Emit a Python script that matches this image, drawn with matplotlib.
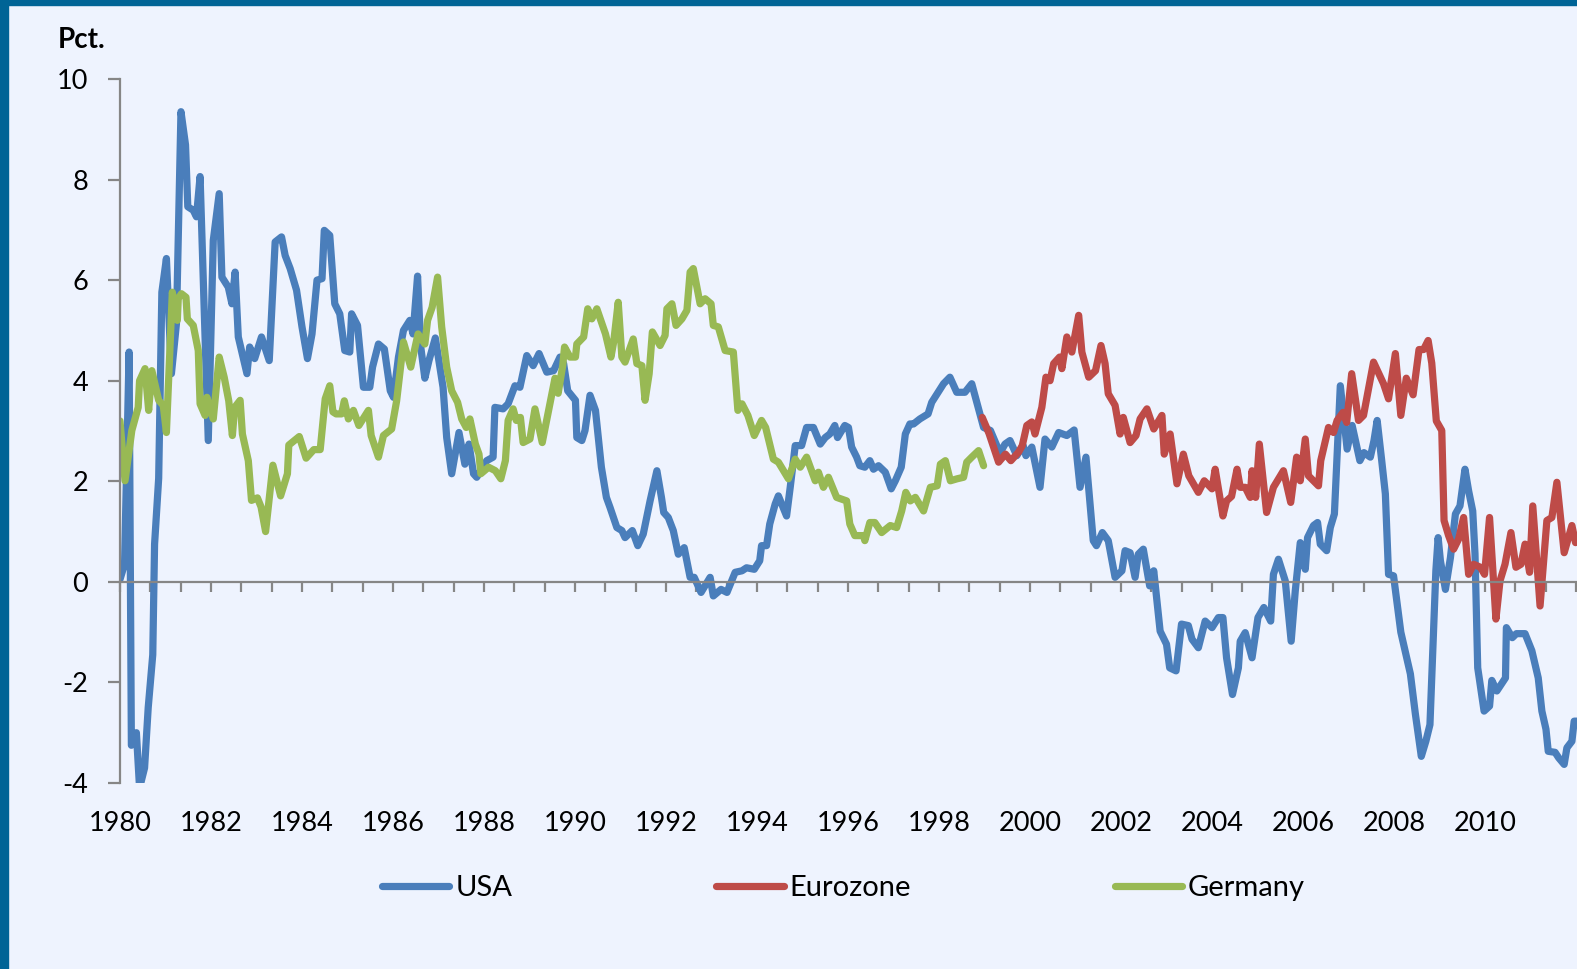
import matplotlib
matplotlib.use("Agg")
import matplotlib.pyplot as plt
from matplotlib.patches import Rectangle
from matplotlib.ticker import FixedLocator

usa_t = [1980.00, 1980.10, 1980.20, 1980.25, 1980.36, 1980.43, 1980.54, 1980.62, 1980.72, 1980.76,
         1980.85, 1980.92, 1981.02, 1981.13, 1981.24, 1981.34, 1981.44, 1981.49, 1981.61, 1981.68,
         1981.76, 1981.94, 1982.05, 1982.18, 1982.24, 1982.38, 1982.46, 1982.53, 1982.60, 1982.79,
         1982.85, 1982.96, 1983.11, 1983.28, 1983.41, 1983.55, 1983.63, 1983.74, 1983.88, 1984.00,
         1984.12, 1984.22, 1984.33, 1984.44, 1984.49, 1984.61, 1984.72, 1984.83, 1984.94, 1985.05,
         1985.09, 1985.22, 1985.35, 1985.49, 1985.55, 1985.68, 1985.81, 1985.94, 1986.01, 1986.12,
         1986.23, 1986.37, 1986.44, 1986.54, 1986.61, 1986.70, 1986.79, 1986.93, 1987.10, 1987.18,
         1987.29, 1987.45, 1987.58, 1987.67, 1987.77, 1987.84, 1988.06, 1988.20, 1988.24, 1988.42,
         1988.53, 1988.68, 1988.79, 1988.94, 1989.08, 1989.21, 1989.38, 1989.53, 1989.67, 1989.75,
         1989.84, 1990.01, 1990.04, 1990.15, 1990.22, 1990.33, 1990.45, 1990.58, 1990.69, 1990.77,
         1990.92, 1991.03, 1991.10, 1991.26, 1991.38, 1991.50, 1991.65, 1991.80, 1991.90, 1991.95,
         1992.05, 1992.16, 1992.27, 1992.40, 1992.53, 1992.62, 1992.77, 1992.97, 1993.04, 1993.21,
         1993.34, 1993.52, 1993.67, 1993.77, 1993.94, 1994.06, 1994.10, 1994.21, 1994.28, 1994.40,
         1994.47, 1994.65, 1994.73, 1994.84, 1994.98, 1995.09, 1995.24, 1995.39, 1995.50, 1995.60,
         1995.71, 1995.77, 1995.93, 1996.01, 1996.08, 1996.19, 1996.26, 1996.37, 1996.48, 1996.56,
         1996.67, 1996.82, 1996.95, 1997.04, 1997.17, 1997.26, 1997.36, 1997.44, 1997.58, 1997.76,
         1997.84, 1997.98, 1998.10, 1998.24, 1998.39, 1998.57, 1998.72, 1998.83, 1998.98, 1999.13,
         1999.34, 1999.45, 1999.56, 1999.71, 1999.85, 1999.91, 2000.04, 2000.22, 2000.33, 2000.48,
         2000.63, 2000.81, 2000.97, 2001.10, 2001.23, 2001.32, 2001.39, 2001.46, 2001.59, 2001.72,
         2001.87, 2002.02, 2002.09, 2002.20, 2002.31, 2002.38, 2002.49, 2002.63, 2002.72, 2002.86,
         2003.00, 2003.07, 2003.21, 2003.33, 2003.48, 2003.56, 2003.70, 2003.85, 2004.00, 2004.14,
         2004.24, 2004.32, 2004.45, 2004.58, 2004.62, 2004.73, 2004.88, 2005.01, 2005.14, 2005.29,
         2005.35, 2005.46, 2005.61, 2005.74, 2005.83, 2005.94, 2006.05, 2006.10, 2006.23, 2006.32,
         2006.38, 2006.52, 2006.60, 2006.69, 2006.82, 2006.97, 2007.08, 2007.25, 2007.34, 2007.48,
         2007.56, 2007.63, 2007.73, 2007.81, 2007.88, 2007.99, 2008.15, 2008.36, 2008.47, 2008.60,
         2008.70, 2008.79, 2008.85, 2008.92, 2008.97, 2009.02, 2009.13, 2009.24, 2009.35, 2009.45,
         2009.56, 2009.64, 2009.73, 2009.78, 2009.84, 2009.98, 2010.10, 2010.15, 2010.26, 2010.45,
         2010.47, 2010.60, 2010.69, 2010.88, 2011.03, 2011.17, 2011.25, 2011.34, 2011.39, 2011.54,
         2011.62, 2011.74, 2011.80, 2011.91, 2011.96, 2012.03]
usa_v = [0.05, 0.35, 4.57, -3.25, -3.0, -4.1, -3.7, -2.5, -1.45, 0.75,
         2.06, 5.76, 6.43, 4.14, 5.13, 9.35, 8.69, 7.46, 7.39, 7.26,
         8.06, 2.81, 6.79, 7.72, 6.06, 5.86, 5.53, 6.16, 4.87, 4.14,
         4.67, 4.44, 4.87, 4.4, 6.76, 6.86, 6.49, 6.23, 5.8, 5.07,
         4.44, 4.93, 6.0, 6.03, 6.99, 6.89, 5.53, 5.33, 4.6, 4.57,
         5.33, 5.1, 3.87, 3.87, 4.27, 4.73, 4.63, 3.8, 3.67, 4.47,
         5.0, 5.2, 4.93, 6.08, 4.67, 4.05, 4.4, 4.85, 3.87, 2.87,
         2.15, 2.97, 2.34, 2.74, 2.15, 2.08, 2.41, 2.48, 3.47, 3.44,
         3.54, 3.9, 3.87, 4.5, 4.3, 4.54, 4.17, 4.2, 4.47, 4.34,
         3.8, 3.61, 2.87, 2.81, 3.01, 3.71, 3.41, 2.28, 1.68, 1.48,
         1.08, 1.02, 0.88, 1.02, 0.72, 0.95, 1.61, 2.21, 1.68, 1.38,
         1.28, 1.02, 0.55, 0.68, 0.09, 0.09, -0.21, 0.09, -0.28, -0.15,
         -0.21, 0.19, 0.22, 0.28, 0.25, 0.42, 0.72, 0.72, 1.15, 1.55,
         1.71, 1.31, 1.88, 2.71, 2.71, 3.07, 3.07, 2.74, 2.87, 2.94,
         3.11, 2.87, 3.11, 3.07, 2.68, 2.48, 2.31, 2.28, 2.41, 2.24,
         2.31, 2.18, 1.85, 2.01, 2.28, 2.94, 3.14, 3.14, 3.24, 3.34,
         3.57, 3.77, 3.94, 4.07, 3.77, 3.77, 3.94, 3.57, 3.07, 3.01,
         2.56, 2.74, 2.81, 2.51, 2.71, 2.51, 2.68, 1.88, 2.84, 2.68,
         2.97, 2.91, 3.02, 1.88, 2.48, 1.55, 0.82, 0.72, 0.98, 0.82,
         0.09, 0.22, 0.62, 0.58, 0.09, 0.55, 0.65, -0.08, 0.22, -0.98,
         -1.24, -1.71, -1.77, -0.84, -0.87, -1.14, -1.31, -0.78, -0.91, -0.71,
         -0.71, -1.51, -2.24, -1.71, -1.18, -1.01, -1.51, -0.71, -0.51, -0.78,
         0.15, 0.45, 0.02, -1.18, -0.18, 0.78, 0.25, 0.88, 1.12, 1.18,
         0.75, 0.62, 1.08, 1.35, 3.9, 2.64, 3.11, 2.41, 2.57, 2.48,
         2.81, 3.21, 2.41, 1.75, 0.15, 0.12, -1.0, -1.83, -2.63, -3.47,
         -3.17, -2.84, -1.43, 0.22, 0.88, 0.42, -0.15, 0.48, 1.35, 1.51,
         2.24, 1.81, 1.41, 0.56, -1.71, -2.57, -2.47, -1.96, -2.17, -1.91,
         -0.91, -1.11, -1.03, -1.03, -1.37, -1.91, -2.57, -2.93, -3.37, -3.39,
         -3.5, -3.63, -3.3, -3.17, -2.77, -2.77]

euro_t = [1998.95, 1999.10, 1999.31, 1999.46, 1999.58, 1999.75, 1999.83, 1999.93, 2000.04, 2000.11,
          2000.26, 2000.35, 2000.44, 2000.52, 2000.65, 2000.70, 2000.81, 2000.92, 2001.07, 2001.14,
          2001.29, 2001.44, 2001.56, 2001.65, 2001.72, 2001.87, 2001.98, 2002.05, 2002.20, 2002.33,
          2002.42, 2002.57, 2002.72, 2002.90, 2002.95, 2003.08, 2003.23, 2003.37, 2003.49, 2003.70,
          2003.83, 2004.00, 2004.07, 2004.24, 2004.32, 2004.43, 2004.55, 2004.62, 2004.73, 2004.84,
          2004.88, 2004.96, 2005.04, 2005.20, 2005.35, 2005.57, 2005.73, 2005.86, 2005.94, 2006.05,
          2006.12, 2006.34, 2006.39, 2006.56, 2006.67, 2006.75, 2006.88, 2006.96, 2007.07, 2007.22,
          2007.33, 2007.55, 2007.77, 2007.88, 2008.03, 2008.15, 2008.27, 2008.42, 2008.55, 2008.65,
          2008.75, 2008.83, 2008.93, 2009.05, 2009.10, 2009.20, 2009.31, 2009.42, 2009.53, 2009.64,
          2009.75, 2009.90, 2009.99, 2010.10, 2010.24, 2010.33, 2010.44, 2010.57, 2010.68, 2010.79,
          2010.88, 2010.98, 2011.05, 2011.21, 2011.36, 2011.47, 2011.58, 2011.74, 2011.91, 2011.99]
euro_v = [3.27, 2.95, 2.38, 2.54, 2.41, 2.58, 2.71, 3.11, 3.18, 2.94,
          3.47, 4.07, 4.0, 4.34, 4.47, 4.24, 4.87, 4.57, 5.3, 4.57,
          4.07, 4.2, 4.7, 4.34, 3.74, 3.51, 2.94, 3.27, 2.77, 2.91,
          3.24, 3.44, 3.04, 3.31, 2.54, 2.94, 1.95, 2.54, 2.11, 1.78,
          2.01, 1.85, 2.24, 1.31, 1.61, 1.7, 2.24, 1.88, 1.88, 1.68,
          2.21, 1.68, 2.74, 1.38, 1.88, 2.21, 1.58, 2.48, 2.01, 2.84,
          2.11, 1.91, 2.41, 3.07, 2.97, 3.21, 3.37, 3.17, 4.14, 3.21,
          3.31, 4.37, 3.94, 3.64, 4.54, 3.31, 4.05, 3.72, 4.62, 4.62,
          4.8, 4.35, 3.2, 3.01, 1.22, 0.92, 0.65, 0.85, 1.28, 0.15,
          0.35, 0.29, 0.15, 1.28, -0.74, 0.02, 0.35, 0.98, 0.29, 0.35,
          0.75, 0.19, 1.51, -0.48, 1.22, 1.28, 1.98, 0.58, 1.12, 0.78]

ger_t = [1980.00, 1980.11, 1980.26, 1980.40, 1980.43, 1980.55, 1980.63, 1980.70, 1980.85, 1980.95,
         1981.02, 1981.15, 1981.26, 1981.28, 1981.35, 1981.45, 1981.48, 1981.61, 1981.72, 1981.76,
         1981.87, 1981.91, 1982.05, 1982.18, 1982.29, 1982.39, 1982.47, 1982.52, 1982.64, 1982.69,
         1982.82, 1982.89, 1983.02, 1983.10, 1983.20, 1983.36, 1983.53, 1983.68, 1983.71, 1983.94,
         1984.09, 1984.26, 1984.40, 1984.51, 1984.61, 1984.68, 1984.75, 1984.87, 1984.93, 1985.02,
         1985.13, 1985.25, 1985.46, 1985.52, 1985.68, 1985.79, 1985.97, 1986.08, 1986.23, 1986.39,
         1986.55, 1986.70, 1986.76, 1986.86, 1986.98, 1987.07, 1987.18, 1987.29, 1987.42, 1987.51,
         1987.61, 1987.69, 1987.81, 1987.89, 1987.93, 1988.10, 1988.25, 1988.37, 1988.47, 1988.53,
         1988.64, 1988.71, 1988.80, 1988.86, 1989.01, 1989.12, 1989.28, 1989.42, 1989.56, 1989.63,
         1989.73, 1989.77, 1989.89, 1990.01, 1990.04, 1990.19, 1990.28, 1990.37, 1990.48, 1990.67,
         1990.79, 1990.85, 1990.95, 1991.03, 1991.10, 1991.28, 1991.36, 1991.47, 1991.54, 1991.63,
         1991.70, 1991.87, 1991.98, 1992.02, 1992.13, 1992.22, 1992.35, 1992.46, 1992.53, 1992.60,
         1992.75, 1992.86, 1992.99, 1993.04, 1993.15, 1993.30, 1993.48, 1993.58, 1993.67, 1993.80,
         1993.94, 1994.10, 1994.19, 1994.36, 1994.47, 1994.69, 1994.84, 1994.95, 1995.09, 1995.28,
         1995.35, 1995.46, 1995.57, 1995.75, 1995.97, 1996.04, 1996.15, 1996.34, 1996.37, 1996.48,
         1996.59, 1996.74, 1996.93, 1997.07, 1997.18, 1997.27, 1997.37, 1997.48, 1997.66, 1997.81,
         1997.96, 1998.03, 1998.14, 1998.25, 1998.40, 1998.54, 1998.61, 1998.72, 1998.87, 1998.98]
ger_v = [3.2, 2.01, 3.01, 3.47, 4.0, 4.24, 3.41, 4.2, 3.61, 3.51,
         2.97, 5.76, 5.2, 5.63, 5.73, 5.66, 5.23, 5.1, 4.6, 3.54,
         3.31, 3.67, 3.24, 4.47, 4.07, 3.6, 2.91, 3.47, 3.61, 2.94,
         2.41, 1.62, 1.67, 1.49, 1.0, 2.32, 1.71, 2.15, 2.72, 2.89,
         2.46, 2.63, 2.63, 3.64, 3.9, 3.38, 3.34, 3.34, 3.6, 3.24,
         3.41, 3.11, 3.41, 2.91, 2.48, 2.91, 3.04, 3.6, 4.77, 4.27,
         4.93, 4.73, 5.2, 5.46, 6.06, 5.07, 4.27, 3.8, 3.57, 3.24,
         3.07, 3.24, 2.74, 2.54, 2.15, 2.28, 2.21, 2.05, 2.41, 3.21,
         3.44, 3.21, 3.27, 2.77, 2.84, 3.44, 2.77, 3.41, 4.05, 3.75,
         4.3, 4.67, 4.47, 4.47, 4.73, 4.87, 5.43, 5.23, 5.43, 4.93,
         4.47, 4.77, 5.56, 4.47, 4.37, 4.83, 4.34, 4.3, 3.61, 4.14,
         4.97, 4.7, 4.9, 5.43, 5.53, 5.1, 5.23, 5.4, 6.16, 6.23,
         5.53, 5.63, 5.53, 5.1, 5.07, 4.6, 4.57, 3.41, 3.54, 3.31,
         2.91, 3.21, 3.07, 2.44, 2.38, 2.05, 2.44, 2.28, 2.48, 2.01,
         2.18, 1.88, 2.08, 1.68, 1.61, 1.15, 0.92, 0.92, 0.82, 1.18,
         1.18, 0.98, 1.12, 1.08, 1.41, 1.78, 1.61, 1.68, 1.41, 1.88,
         1.91, 2.34, 2.41, 2.01, 2.05, 2.08, 2.38, 2.48, 2.61, 2.31]

year_labels = list(range(1980, 2011, 2))

bg = "#EEF3FE"
border = "#006496"
grey = "#868686"
font = ["Lato", "DejaVu Sans"]
plt.rcParams["font.family"] = font
plt.rcParams["axes.unicode_minus"] = False

W, H = 1577, 969
fig = plt.figure(figsize=(W / 100, H / 100), dpi=100, facecolor=bg)
ax = fig.add_axes([120 / W, 186 / H, 1457 / W, 704 / H])
ax.set_facecolor(bg)

lw = 5.2
ax.plot(usa_t, usa_v, color="#4A7EBB", lw=lw, label="USA",
        solid_joinstyle="round", solid_capstyle="round")
ax.plot(euro_t, euro_v, color="#BE4B48", lw=lw, label="Eurozone",
        solid_joinstyle="round", solid_capstyle="round")
ax.plot(ger_t, ger_v, color="#98B954", lw=lw, label="Germany",
        solid_joinstyle="round", solid_capstyle="round")

ax.set_xlim(1980, 1980 + 1457 / 45.5)
ax.set_ylim(-4, 10)

# y axis
for s in ["top", "right"]:
    ax.spines[s].set_visible(False)
ax.spines["left"].set_color(grey)
ax.spines["left"].set_linewidth(1.6)
ax.set_yticks(range(-4, 11, 2))
ax.tick_params(axis="y", direction="out", length=9, width=1.6, color=grey,
               labelsize=19.5, pad=14)

# zero line carries small ticks every 8 months
ax.spines["bottom"].set_position(("data", 0))
ax.spines["bottom"].set_color(grey)
ax.spines["bottom"].set_linewidth(1.6)
ax.xaxis.set_major_locator(FixedLocator([1980 + k * 8 / 12 for k in range(0, 49)]))
ax.tick_params(axis="x", direction="out", length=7, width=1.6, color=grey,
               labelbottom=False)

# year labels at the bottom of the plot
sec = ax.secondary_xaxis("bottom")
sec.set_xticks(year_labels)
sec.set_xticklabels([str(y) for y in year_labels])
sec.tick_params(length=0, labelsize=19.5, pad=20)
sec.spines["bottom"].set_visible(False)

fig.text(58 / W, 1 - 40 / H, "Pct.", fontsize=20, fontweight="bold",
         ha="left", va="center")

fig.legend(loc="center", bbox_to_anchor=(0.535, 1 - 888 / H), ncol=3,
           frameon=False, fontsize=21, handlelength=2.3, handletextpad=0.2,
           columnspacing=7.0)

# frame
fig.add_artist(Rectangle((0, 0), 8 / W, 1, transform=fig.transFigure,
                         color=border, zorder=10))
fig.add_artist(Rectangle((0, 1 - 5 / H), 1, 5 / H, transform=fig.transFigure,
                         color=border, zorder=10))

fig.savefig("out.png", dpi=100, facecolor=bg)
